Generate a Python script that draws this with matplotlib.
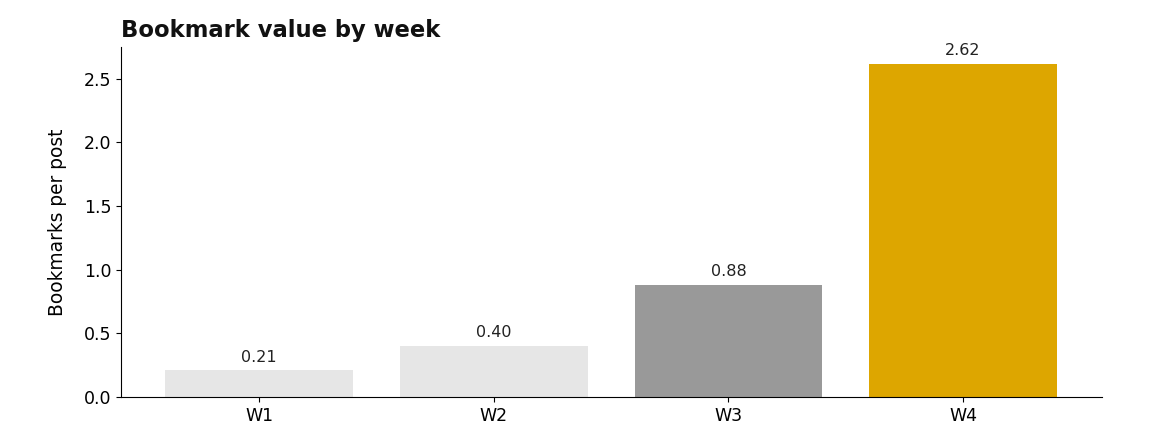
import matplotlib.pyplot as plt

weeks = ["W1", "W2", "W3", "W4"]
bookmarks = [0.21, 0.40, 0.88, 2.62]
colors = ["#e6e6e6", "#e6e6e6", "#999999", "#dda600"]

fig, ax = plt.subplots(figsize=(11.51, 4.47), dpi=100)
fig.subplots_adjust(left=0.105, right=0.957, bottom=0.112, top=0.895)

bars = ax.bar(weeks, bookmarks, color=colors, width=0.8)
ax.bar_label(bars, labels=["%.2f" % v for v in bookmarks], padding=4, fontsize=11.5, color="#222222")

ax.set_title("Bookmark value by week", loc="left", fontsize=16.3, fontweight="bold", color="#111111", pad=7)
ax.set_ylabel("Bookmarks per post", fontsize=13.4, labelpad=12)
ax.tick_params(axis="both", labelsize=12.5)
ax.spines["top"].set_visible(False)
ax.spines["right"].set_visible(False)

plt.savefig("out.png", dpi=100)
